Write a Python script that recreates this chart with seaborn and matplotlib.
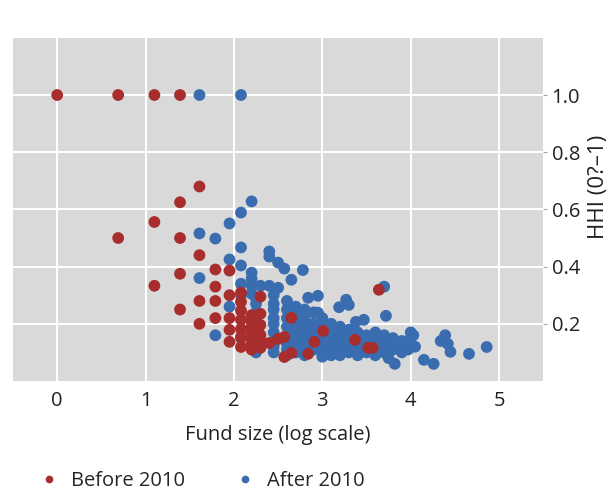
import numpy as np
import pandas as pd
import seaborn as sns
import matplotlib.pyplot as plt

# Before 2010 funds: log fund size vs HHI
before_x = [0, 0.69, 1.1, 1.39,
            0.69, 1.1, 1.1,
            1.39, 1.39, 1.39, 1.39,
            1.61, 1.61, 1.61, 1.61,
            1.79, 1.79, 1.79, 1.79,
            1.95, 1.95, 1.95, 1.95, 1.95,
            2.08, 2.08, 2.08, 2.08, 2.08, 2.08, 2.08,
            2.2, 2.2, 2.2, 2.2, 2.2, 2.2, 2.2,
            2.3, 2.3, 2.3, 2.3, 2.3, 2.3,
            2.4, 2.5, 2.57, 2.65, 3.01, 2.91, 2.57, 2.65, 2.84, 3.37, 3.52, 3.57, 3.64]
before_y = [1.0, 1.0, 1.0, 1.0,
            0.5, 0.556, 0.333,
            0.625, 0.5, 0.375, 0.25,
            0.68, 0.44, 0.28, 0.2,
            0.39, 0.33, 0.28, 0.22,
            0.386, 0.30, 0.22, 0.179, 0.137,
            0.309, 0.277, 0.246, 0.214, 0.182, 0.154, 0.119,
            0.23, 0.21, 0.19, 0.17, 0.15, 0.13, 0.11,
            0.295, 0.235, 0.196, 0.161, 0.14, 0.116,
            0.133, 0.147, 0.154, 0.221, 0.175, 0.137, 0.084, 0.098, 0.095, 0.144, 0.116, 0.116, 0.319]

# After 2010 funds
after_x = [1.61, 2.08,
           2.2, 2.08, 1.95, 1.61, 1.79, 2.08,
           2.4, 2.4, 1.95, 2.5, 2.08, 2.57, 2.78,
           2.2, 2.2, 2.65, 1.61, 2.08, 2.2, 2.3, 2.4, 2.5,
           2.08, 2.2, 1.95, 1.79, 2.08,
           2.84, 2.95, 3.27, 3.3, 3.19, 2.95, 3.7, 3.72, 3.38, 3.47,
           2.25, 2.25, 2.25, 2.25, 2.25, 2.25, 2.25, 2.25,
           2.45, 2.45, 2.45, 2.45, 2.45, 2.45, 2.45, 2.45, 2.45,
           2.6, 2.6, 2.6, 2.6, 2.6, 2.6, 2.6, 2.6,
           2.7, 2.7, 2.7, 2.7, 2.7, 2.7, 2.7,
           2.8, 2.8, 2.8, 2.8, 2.8, 2.8, 2.8,
           2.9, 2.9, 2.9, 2.9, 2.9, 2.9,
           3.0, 3.0, 3.0, 3.0, 3.0, 3.0, 3.0,
           3.1, 3.1, 3.1, 3.1, 3.1, 3.1,
           3.2, 3.2, 3.2, 3.2, 3.2, 3.2,
           3.3, 3.3, 3.3, 3.3, 3.3,
           3.4, 3.4, 3.4, 3.4, 3.4,
           3.5, 3.5, 3.5, 3.5,
           3.6, 3.6, 3.6, 3.6, 3.6,
           3.7, 3.7, 3.7, 3.7, 3.75,
           3.8, 3.8, 3.8, 3.82,
           3.9, 3.9, 3.9,
           4.0, 4.0, 4.0,
           4.03, 4.05, 3.97, 4.15, 4.26, 4.39, 4.34, 4.42, 4.45, 4.66, 4.86]
after_y = [1.0, 1.0,
           0.628, 0.589, 0.551, 0.516, 0.498, 0.467,
           0.453, 0.435, 0.425, 0.414, 0.404, 0.393, 0.388,
           0.379, 0.358, 0.354, 0.36, 0.34, 0.333, 0.333, 0.333, 0.326,
           0.30, 0.305, 0.26, 0.16, 0.15,
           0.291, 0.298, 0.284, 0.266, 0.258, 0.239, 0.33, 0.228, 0.207, 0.214,
           0.29, 0.27, 0.24, 0.21, 0.18, 0.15, 0.12, 0.10,
           0.30, 0.27, 0.25, 0.22, 0.20, 0.17, 0.14, 0.12, 0.10,
           0.28, 0.25, 0.22, 0.19, 0.16, 0.13, 0.11, 0.09,
           0.26, 0.23, 0.20, 0.17, 0.15, 0.12, 0.10,
           0.25, 0.22, 0.19, 0.16, 0.14, 0.11, 0.09,
           0.24, 0.20, 0.18, 0.15, 0.13, 0.11,
           0.22, 0.19, 0.16, 0.14, 0.12, 0.10, 0.085,
           0.20, 0.17, 0.15, 0.13, 0.11, 0.09,
           0.19, 0.16, 0.14, 0.12, 0.10, 0.09,
           0.18, 0.16, 0.13, 0.11, 0.10,
           0.17, 0.15, 0.12, 0.10, 0.09,
           0.16, 0.14, 0.12, 0.10,
           0.17, 0.15, 0.13, 0.11, 0.09,
           0.16, 0.14, 0.12, 0.10, 0.08,
           0.15, 0.13, 0.11, 0.06,
           0.14, 0.12, 0.10,
           0.17, 0.15, 0.12,
           0.16, 0.12, 0.11, 0.074, 0.06, 0.16, 0.14, 0.13, 0.102, 0.095, 0.119]

df = pd.DataFrame({
    'size': after_x + before_x,
    'hhi': after_y + before_y,
    'period': ['After 2010'] * len(after_x) + ['Before 2010'] * len(before_x),
})

sns.set_style('white', {'axes.facecolor': '#d9d9d9', 'grid.color': 'white'})
plt.rcParams['font.family'] = ['Open Sans', 'DejaVu Sans']

fig = plt.figure(figsize=(6.13, 4.91), dpi=100)
ax = fig.add_axes([0.0212, 0.224, 0.865, 0.699])

palette = {'Before 2010': '#a82d2d', 'After 2010': '#3a6cb0'}
sns.scatterplot(data=df, x='size', y='hhi', hue='period',
                hue_order=['Before 2010', 'After 2010'], palette=palette,
                s=72, linewidth=0, alpha=1, ax=ax)

ax.set_xlim(-0.5, 5.5)
ax.set_ylim(0, 1.2)
ax.set_xticks(range(6))
ax.set_yticks([0.2, 0.4, 0.6, 0.8, 1.0])
ax.set_yticklabels(['0.2', '0.4', '0.6', '0.8', '1.0'])
ax.grid(True, color='white', linewidth=1.5)
ax.set_axisbelow(True)
for s in ax.spines.values():
    s.set_visible(False)

ax.yaxis.tick_right()
ax.tick_params(axis='x', direction='in', length=10, width=1, color='black',
               labelsize=14.5, pad=7, labelcolor='#222222')
ax.tick_params(axis='y', direction='out', length=3, color='#aaaaaa',
               labelsize=14.5, pad=3, labelcolor='#222222')

ax.set_xlabel('Fund size (log scale)', fontsize=14.5, labelpad=10, color='#222222')
ax.set_ylabel('')
fig.text(0.976, 0.62, 'HHI (0?–1)', rotation=90, ha='center', va='center',
         fontsize=16, color='#222222')

sns.move_legend(ax, 'lower left', bbox_to_anchor=(0.034, -0.036),
                bbox_transform=fig.transFigure, ncol=2, frameon=False,
                title=None, fontsize=14.5, markerscale=0.65, columnspacing=2.45,
                handlelength=1.0, handletextpad=0.6)

fig.savefig('out.png', dpi=100)
